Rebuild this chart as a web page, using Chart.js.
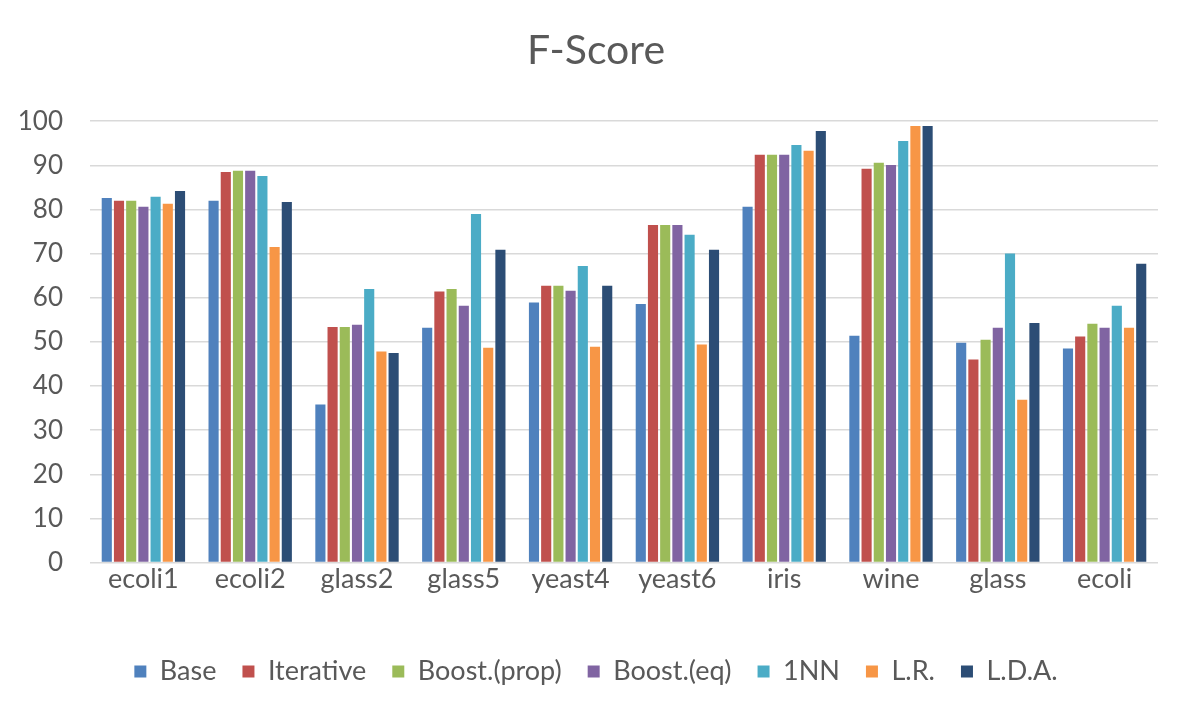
<!DOCTYPE html>
<html>
<head>
<meta charset="utf-8">
<script src="https://cdn.jsdelivr.net/npm/chart.js@4/dist/chart.umd.min.js"></script>
<style>
  html, body { margin: 0; padding: 0; background: #fff; }
  #wrap { width: 1192px; height: 714px; }
</style>
</head>
<body>
<div id="wrap"><canvas id="chart"></canvas></div>
<script>
const categories = ["ecoli1", "ecoli2", "glass2", "glass5", "yeast4", "yeast6", "iris", "wine", "glass", "ecoli"];

const base      = [82.6, 82.0, 35.8, 53.2, 58.9, 58.6, 80.6, 51.4, 49.8, 48.5];
const iterative = [82.0, 88.5, 53.4, 61.4, 62.7, 76.5, 92.4, 89.2, 46.0, 51.2];
const boostProp = [82.0, 88.8, 53.4, 62.0, 62.7, 76.5, 92.4, 90.6, 50.5, 54.1];
const boostEq   = [80.6, 88.8, 53.9, 58.2, 61.6, 76.5, 92.4, 90.1, 53.2, 53.2];
const oneNN     = [82.9, 87.6, 62.0, 79.0, 67.2, 74.3, 94.6, 95.5, 70.0, 58.2];
const lr        = [81.3, 71.5, 47.8, 48.7, 48.9, 49.4, 93.3, 98.9, 36.9, 53.2];
const lda       = [84.2, 81.7, 47.5, 70.9, 62.7, 70.9, 97.8, 98.9, 54.3, 67.7];

const yTicks = [0, 10, 20, 30, 40, 50, 60, 70, 80, 90, 100];

const font = "Lato, 'Open Sans', sans-serif";

const series = [
  ["Base", base, "#4F81BD"],
  ["Iterative", iterative, "#C0504D"],
  ["Boost.(prop)", boostProp, "#9BBB59"],
  ["Boost.(eq)", boostEq, "#8064A2"],
  ["1NN", oneNN, "#4BACC6"],
  ["L.R.", lr, "#F79646"],
  ["L.D.A.", lda, "#2C4D75"],
];

new Chart(document.getElementById("chart"), {
  type: "bar",
  data: {
    labels: categories,
    datasets: series.map(([label, data, color]) => ({
      label,
      data,
      backgroundColor: color,
      categoryPercentage: 0.8,
      barPercentage: 0.83,
    })),
  },
  options: {
    responsive: true,
    maintainAspectRatio: false,
    animation: false,
    layout: { padding: { left: 16, right: 16, top: 8, bottom: 19 } },
    plugins: {
      title: {
        display: true,
        text: "F-Score",
        color: "#595959",
        font: { family: font, size: 41, weight: "normal" },
        padding: { top: 18, bottom: 46 },
      },
      legend: {
        position: "bottom",
        labels: {
          color: "#595959",
          font: { family: font, size: 27 },
          boxWidth: 12,
          boxHeight: 12,
          padding: 26,
        },
      },
      tooltip: { enabled: false },
    },
    scales: {
      x: {
        afterFit: (axis) => {
          axis.height += 37;
          axis.paddingRight = 34;
        },
        grid: { display: false, drawTicks: false },
        border: { display: false },
        ticks: { color: "#595959", font: { family: font, size: 27 }, padding: 0 },
      },
      y: {
        min: 0,
        max: 100,
        afterBuildTicks: (axis) => { axis.ticks = yTicks.map((v) => ({ value: v })); },
        afterFit: (axis) => { axis.width = 74; },
        grid: { color: "#D9D9D9", lineWidth: 1.5, drawTicks: false },
        border: { display: false },
        ticks: { color: "#595959", font: { family: font, size: 26 }, padding: 27 },
      },
    },
  },
});
</script>
</body>
</html>
